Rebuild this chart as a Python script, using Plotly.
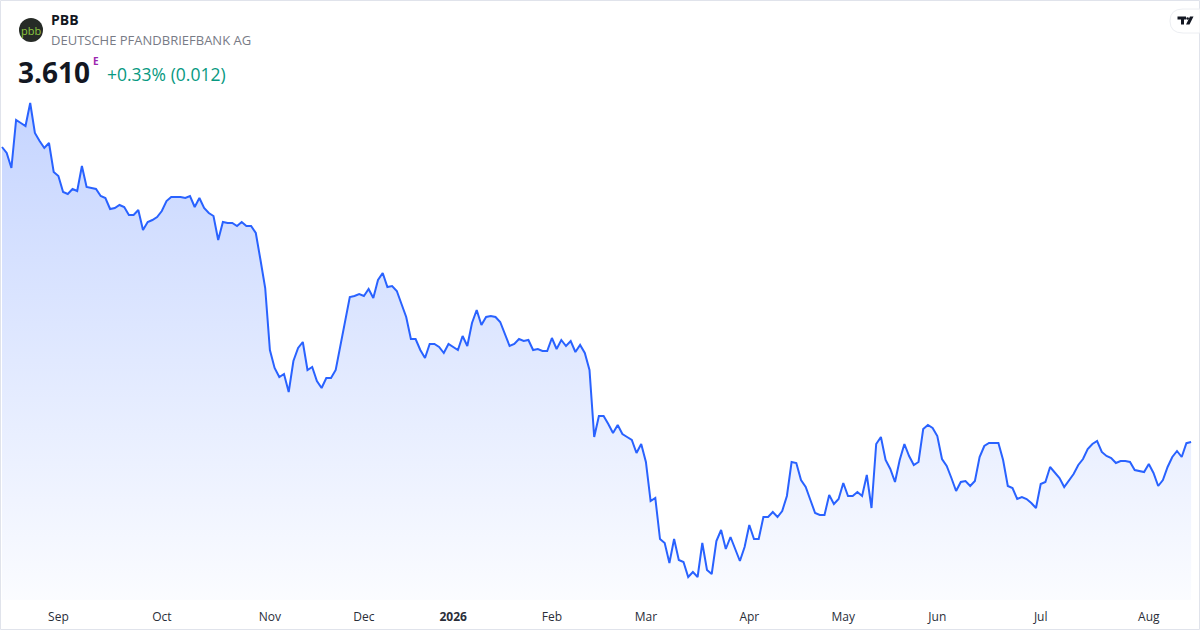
import plotly.graph_objects as go

W, H = 1200, 630
PLOT_H = 600

# daily closes, one per trading day (mid Aug 2025 .. mid Aug 2026)
prices = [
    6.56, 6.50, 6.35, 6.83, 6.80, 6.77, 7.00, 6.70, 6.62, 6.55,
    6.60, 6.31, 6.27, 6.11, 6.09, 6.14, 6.12, 6.37, 6.16, 6.15,
    6.14, 6.07, 6.05, 5.94, 5.95, 5.98, 5.96, 5.88, 5.88, 5.93,
    5.73, 5.81, 5.83, 5.86, 5.92, 6.02, 6.06, 6.06, 6.06, 6.05,
    6.07, 5.96, 6.05, 5.95, 5.90, 5.87, 5.63, 5.81, 5.80, 5.80,
    5.77, 5.81, 5.77, 5.77, 5.70, 5.43, 5.15, 4.53, 4.35, 4.26,
    4.29, 4.11, 4.42, 4.55, 4.61, 4.33, 4.36, 4.22, 4.15, 4.25,
    4.25, 4.33, 4.58, 4.83, 5.06, 5.07, 5.09, 5.07, 5.14, 5.05,
    5.23, 5.30, 5.16, 5.17, 5.12, 4.99, 4.86, 4.64, 4.64, 4.53,
    4.45, 4.59, 4.59, 4.56, 4.50, 4.59, 4.56, 4.53, 4.67, 4.57,
    4.80, 4.93, 4.78, 4.86, 4.87, 4.86, 4.81, 4.69, 4.57, 4.59,
    4.64, 4.62, 4.63, 4.53, 4.54, 4.52, 4.52, 4.65, 4.54, 4.63,
    4.57, 4.62, 4.51, 4.58, 4.50, 4.33, 3.66, 3.87, 3.87, 3.79,
    3.70, 3.78, 3.69, 3.66, 3.63, 3.50, 3.59, 3.41, 3.02, 3.05,
    2.64, 2.60, 2.40, 2.64, 2.43, 2.41, 2.26, 2.31, 2.26, 2.60,
    2.33, 2.29, 2.62, 2.73, 2.54, 2.66, 2.53, 2.42, 2.56, 2.78,
    2.64, 2.64, 2.86, 2.86, 2.91, 2.86, 2.92, 3.07, 3.41, 3.40,
    3.23, 3.16, 3.03, 2.90, 2.88, 2.88, 3.08, 2.99, 3.04, 3.20,
    3.07, 3.07, 3.11, 3.07, 3.28, 2.95, 3.59, 3.66, 3.43, 3.34,
    3.21, 3.43, 3.59, 3.47, 3.38, 3.41, 3.74, 3.78, 3.75, 3.67,
    3.44, 3.37, 3.25, 3.12, 3.21, 3.22, 3.17, 3.22, 3.46, 3.57,
    3.60, 3.60, 3.60, 3.43, 3.17, 3.15, 3.04, 3.06, 3.04, 3.00,
    2.95, 3.19, 3.21, 3.36, 3.30, 3.25, 3.16, 3.22, 3.29, 3.38,
    3.44, 3.54, 3.59, 3.62, 3.51, 3.47, 3.45, 3.40, 3.42, 3.42,
    3.41, 3.33, 3.32, 3.31, 3.39, 3.30, 3.17, 3.23, 3.36, 3.46,
    3.52, 3.46, 3.598, 3.610,
]
days = list(range(len(prices)))

# first trading day of each month (index into days)
month_idx = [12, 34, 57, 77, 96, 117, 137, 159, 179, 199, 221, 244]
month_text = ["Sep", "Oct", "Nov", "Dec", "<b>2026</b>", "Feb",
              "Mar", "Apr", "May", "Jun", "Jul", "Aug"]

ticker = "PBB"
company = "DEUTSCHE PFANDBRIEFBANK AG"
last_price = "3.610"
change_text = "+0.33% (0.012)"

FONT = "Open Sans"


def px(x):
    return x / W


def py(y):
    return (PLOT_H - y) / PLOT_H


fig = go.Figure()
fig.add_trace(go.Scatter(
    x=days, y=prices, mode="lines",
    line=dict(color="#2962ff", width=2),
    fill="tozeroy",
    fillgradient=dict(type="vertical",
                      colorscale=[[0, "rgba(41,98,255,0.02)"],
                                  [1, "rgba(41,98,255,0.27)"]],
                      start=2.03, stop=7.0),
    hoverinfo="skip",
))

fig.update_layout(
    width=W, height=H,
    margin=dict(l=0, r=0, t=0, b=H - PLOT_H),
    paper_bgcolor="white", plot_bgcolor="white",
    showlegend=False,
    xaxis=dict(range=[-2 / 4.7, 1198 / 4.7], tickvals=month_idx, ticktext=month_text,
               showgrid=False, zeroline=False, showline=False, ticks="",
               ticklabelstandoff=8,
               tickfont=dict(family=FONT, size=12, color="#2a2e39")),
    yaxis=dict(range=[2.03, 8.03], visible=False),
)

shapes = []
# outer frame
shapes.append(dict(type="rect", xref="paper", yref="paper",
                   x0=px(0.5), x1=px(1199.5), y0=py(629.5), y1=py(0.5),
                   line=dict(color="#e0e3eb", width=1)))
# logo badge
shapes.append(dict(type="circle", xref="paper", yref="paper",
                   x0=px(19), x1=px(43), y0=py(42), y1=py(18),
                   fillcolor="#262b26", line=dict(width=0)))
# tradingview pill
shapes.append(dict(type="path", xref="paper", yref="paper",
                   path=f"M {px(1183)},{py(9)} L {px(1200)},{py(9)} L {px(1200)},{py(33)} "
                        f"L {px(1183)},{py(33)} Q {px(1170)},{py(33)} {px(1170)},{py(21)} "
                        f"Q {px(1170)},{py(9)} {px(1183)},{py(9)} Z",
                   fillcolor="white", line=dict(color="#eceef2", width=1)))
# TV glyph
shapes.append(dict(type="path", xref="paper", yref="paper",
                   path=f"M {px(1177.5)},{py(16.5)} L {px(1186)},{py(16.5)} L {px(1186)},{py(19.5)} "
                        f"L {px(1184)},{py(19.5)} L {px(1184)},{py(24.5)} L {px(1181)},{py(24.5)} "
                        f"L {px(1181)},{py(19.5)} L {px(1177.5)},{py(19.5)} Z",
                   fillcolor="#131722", line=dict(width=0)))
shapes.append(dict(type="circle", xref="paper", yref="paper",
                   x0=px(1186.3), x1=px(1188.9), y0=py(19.8), y1=py(17.2),
                   fillcolor="#131722", line=dict(width=0)))
shapes.append(dict(type="path", xref="paper", yref="paper",
                   path=f"M {px(1190)},{py(16.5)} L {px(1193.5)},{py(16.5)} L {px(1189.5)},{py(24.5)} "
                        f"L {px(1186)},{py(24.5)} Z",
                   fillcolor="#131722", line=dict(width=0)))

annotations = [
    dict(text="pbb", x=px(31), y=py(30.5), font=dict(family=FONT, size=11, color="#8cc63f"),
         xanchor="center", yanchor="middle"),
    dict(text=f"<b>{ticker}</b>", x=px(49), y=py(20), font=dict(family=FONT, size=14, color="#131722"),
         xanchor="left", yanchor="middle"),
    dict(text=company, x=px(49), y=py(40), font=dict(family=FONT, size=13, color="#787b86"),
         xanchor="left", yanchor="middle"),
    dict(text=f"<b>{last_price}</b>", x=px(16), y=py(72), font=dict(family=FONT, size=28, color="#131722"),
         xanchor="left", yanchor="middle"),
    dict(text="<b>E</b>", x=px(91), y=py(61), font=dict(family=FONT, size=10, color="#9c27b0"),
         xanchor="left", yanchor="middle"),
    dict(text=change_text, x=px(105), y=py(74), font=dict(family=FONT, size=17.5, color="#089981"),
         xanchor="left", yanchor="middle"),
]
for a in annotations:
    a.update(xref="paper", yref="paper", showarrow=False)

fig.update_layout(shapes=shapes, annotations=annotations)

fig.write_html("out.html", config={"displayModeBar": False},
               post_script="document.body.style.margin='0';")
